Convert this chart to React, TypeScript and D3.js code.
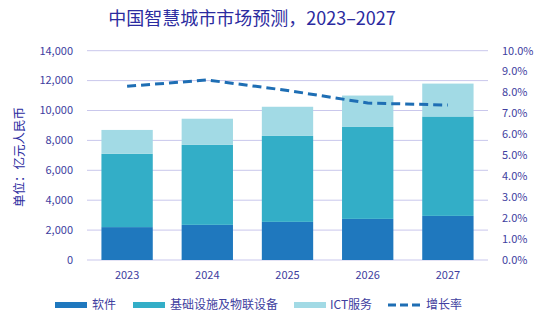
import React from "react";
import * as d3 from "d3";

const years = ["2023", "2024", "2025", "2026", "2027"];
const software = [2200, 2350, 2550, 2750, 2950];
const infra = [4900, 5350, 5750, 6150, 6650];
const ict = [1600, 1750, 1950, 2100, 2200];
const growth = [8.3, 8.6, 8.1, 7.5, 7.4];
const leftTicks = [0, 2000, 4000, 6000, 8000, 10000, 12000, 14000];
const rightTicks = [0, 1, 2, 3, 4, 5, 6, 7, 8, 9, 10];
const seriesNames = ["软件", "基础设施及物联设备", "ICT服务", "增长率"];
const title = "中国智慧城市市场预测，2023–2027";
const yLabel = "单位：亿元人民币";

const colors = ["#1F78BE", "#33AEC7", "#A2DAE5"];
const lineColor = "#1E6EB4";
const textColor = "#4040A0";
const titleColor = "#2B2BA0";
const gridColor = "#C9C7EC";
const FONT = "'Noto Sans CJK SC', 'Noto Sans', sans-serif";

export default function App() {
  const W = 550, H = 330;
  const x0 = 87, x1 = 488, yTop = 50.7, yBot = 260;
  const x = d3.scaleBand().domain(years).range([x0, x1]).paddingInner(0.36).paddingOuter(0.18);
  const y = d3.scaleLinear().domain([0, 14000]).range([yBot, yTop]);
  const y2 = d3.scaleLinear().domain([0, 10]).range([yBot, yTop]);

  const stackData = years.map((yr, i) => ({ year: yr, s0: software[i], s1: infra[i], s2: ict[i] }));
  const stack = d3.stack<any>().keys(["s0", "s1", "s2"])(stackData);

  const line = d3
    .line<number>()
    .x((_, i) => (x(years[i]) as number) + x.bandwidth() / 2)
    .y((d) => y2(d));

  const legend = [
    { name: seriesNames[0], x: 55, tx: 92, color: colors[0], type: "rect" },
    { name: seriesNames[1], x: 133, tx: 170, color: colors[1], type: "rect" },
    { name: seriesNames[2], x: 294, tx: 330, color: colors[2], type: "rect" },
    { name: seriesNames[3], x: 388, tx: 426, color: lineColor, type: "line" },
  ];

  return (
    <svg width={W} height={H} style={{ position: "absolute", left: 0, top: 0, background: "#fff" }} fontFamily={FONT}>
      <text x={252} y={25} textAnchor="middle" fontSize={18} fill={titleColor}>
        {title}
      </text>
      {leftTicks.map((t) => (
        <g key={t}>
          <line x1={x0} x2={x1} y1={y(t)} y2={y(t)} stroke={gridColor} strokeWidth={1} />
          <text x={73} y={y(t)} dy="0.35em" textAnchor="end" fontSize={11} fill={textColor}>
            {d3.format(",")(t)}
          </text>
        </g>
      ))}
      {rightTicks.map((t) => (
        <text key={t} x={502} y={y2(t)} dy="0.35em" textAnchor="start" fontSize={11} fill={textColor}>
          {t.toFixed(1) + "%"}
        </text>
      ))}
      <text
        transform={`translate(20,157) rotate(-90)`}
        textAnchor="middle"
        dy="0.35em"
        fontSize={12.5}
        fill={titleColor}
      >
        {yLabel}
      </text>
      {stack.map((layer, li) => (
        <g key={li} fill={colors[li]}>
          {layer.map((d, i) => (
            <rect
              key={i}
              x={x(years[i])}
              width={x.bandwidth()}
              y={y(d[1])}
              height={y(d[0]) - y(d[1])}
            />
          ))}
        </g>
      ))}
      <path d={line(growth) || ""} fill="none" stroke={lineColor} strokeWidth={3} strokeDasharray="9,5" />
      {years.map((yr) => (
        <text
          key={yr}
          x={(x(yr) as number) + x.bandwidth() / 2}
          y={279}
          textAnchor="middle"
          fontSize={11}
          fill={textColor}
        >
          {yr}
        </text>
      ))}
      {legend.map((l) => (
        <g key={l.name}>
          {l.type === "rect" ? (
            <rect x={l.x} y={302} width={32} height={6} fill={l.color} />
          ) : (
            <line x1={l.x} x2={l.x + 34} y1={305} y2={305} stroke={l.color} strokeWidth={3} strokeDasharray="8,4" />
          )}
          <text x={l.tx} y={305} dy="0.35em" fontSize={12} fill={textColor}>
            {l.name}
          </text>
        </g>
      ))}
    </svg>
  );
}
